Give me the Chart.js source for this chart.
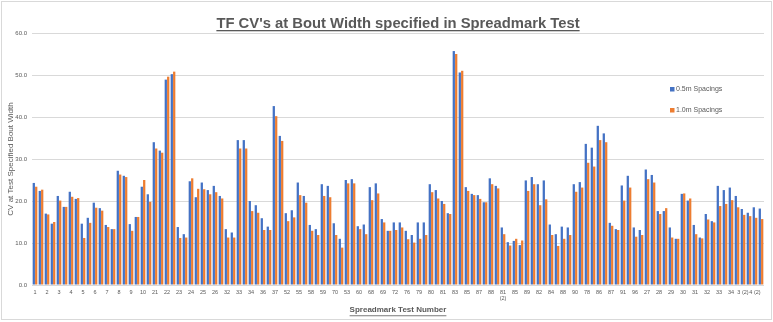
<!DOCTYPE html>
<html>
<head>
<meta charset="utf-8">
<script src="https://cdn.jsdelivr.net/npm/chart.js@4"></script>
<style>
  html, body { margin: 0; padding: 0; background: #fff; }
  #wrap { width: 773px; height: 322px; position: relative; }
</style>
</head>
<body>
<div id="wrap"><canvas id="cvChart" width="773" height="322"></canvas></div>
<script>
// Labels that are readable on the axis (Excel shows every other category)
const shownLabels = [
  '1', '2', '3', '4', '5', '6', '7', '8', '9', '10',
  '21', '22', '23', '24', '25', '26', '32', '33', '34', '36',
  '37', '52', '55', '58', '59', '70', '53', '60', '68', '69',
  '72', '76', '79', '80', '81', '83', '85', '87', '88', ['81', '(2)'],
  '85', '89', '82', '84', '88', '90', '78', '86', '87', '91',
  '96', '27', '28', '29', '30', '31', '32', '33', '34', '3 (2)',
  '4 (2)'
];
// in-between categories are not labelled in the reference
const categories = shownLabels.flatMap(l => [l, '']);

const spacing05 = [
  24.3, 22.4, 17.0, 14.6, 21.2, 18.6, 22.2, 20.5, 14.6, 16.0,
  19.6, 18.3, 14.3, 13.3, 27.2, 26.0, 14.5, 16.2, 23.4, 21.6,
  34.0, 32.0, 48.9, 50.2, 13.8, 12.1, 24.7, 20.9, 24.4, 22.6,
  23.6, 21.2, 13.3, 12.5, 34.5, 34.5, 20.0, 19.0, 15.9, 13.9,
  42.6, 35.5, 17.1, 17.8, 24.4, 21.2, 14.3, 13.3, 24.0, 23.6,
  14.7, 11.0, 25.0, 25.2, 14.0, 14.4, 23.3, 24.2, 15.7, 12.9,
  14.9, 14.9, 12.9, 11.9, 14.9, 14.9, 24.0, 22.6, 20.0, 17.1,
  55.7, 50.6, 23.3, 21.7, 21.4, 19.7, 25.4, 23.6, 13.7, 10.2,
  10.5, 9.5, 24.9, 25.7, 24.0, 24.9, 14.4, 12.1, 13.9, 13.7,
  24.0, 24.5, 33.6, 32.7, 37.9, 36.1, 14.8, 13.3, 23.7, 26.0,
  13.7, 13.1, 27.5, 26.2, 17.6, 17.6, 13.7, 11.0, 21.7, 20.1,
  14.3, 11.3, 16.9, 15.2, 23.6, 22.6, 23.2, 21.2, 18.1, 17.2,
  18.5, 18.2
];

const spacing10 = [
  23.4, 22.7, 16.8, 15.0, 20.1, 18.6, 21.0, 20.7, 11.2, 14.8,
  18.4, 17.7, 13.8, 13.3, 26.3, 25.7, 12.9, 16.2, 25.0, 19.8,
  32.5, 31.5, 49.6, 50.8, 11.2, 11.3, 25.4, 22.9, 22.8, 21.6,
  22.1, 20.6, 11.3, 11.3, 32.5, 32.5, 17.6, 17.2, 13.1, 13.1,
  40.2, 34.3, 15.2, 16.1, 21.4, 19.6, 12.9, 11.9, 21.2, 20.9,
  11.9, 8.9, 24.2, 24.2, 13.3, 12.1, 20.2, 21.8, 14.9, 12.9,
  13.1, 13.7, 10.9, 10.1, 11.0, 11.9, 22.1, 20.6, 19.3, 16.9,
  55.0, 51.0, 22.4, 21.4, 20.5, 19.7, 24.0, 23.0, 12.1, 9.4,
  11.0, 10.6, 22.4, 24.0, 19.0, 20.4, 11.9, 9.3, 11.0, 11.9,
  22.2, 23.2, 29.1, 28.2, 34.5, 34.0, 14.1, 13.1, 20.1, 23.2,
  11.5, 11.9, 25.2, 24.4, 16.9, 18.3, 11.3, 11.0, 21.8, 20.6,
  12.1, 11.1, 15.6, 14.9, 18.8, 19.3, 20.2, 18.5, 16.7, 16.4,
  16.0, 15.7
];

const chartTitle = "TF CV's at Bout Width specified in Spreadmark Test";
const xTitle = 'Spreadmark Test Number';
const yTitle = 'CV at Test Specified Bout Width';

const FONT = '"Liberation Sans Narrow", "Liberation Sans", Arial, sans-serif';
const GREY = '#595959';

// white background, outer border, underlined title, underline on x title, legend inside plot
const decorations = {
  id: 'decorations',
  beforeDraw(chart) {
    const ctx = chart.ctx;
    ctx.save();
    ctx.fillStyle = '#ffffff';
    ctx.fillRect(0, 0, chart.width, chart.height);
    ctx.restore();
  },
  afterDraw(chart) {
    const { ctx, chartArea } = chart;
    ctx.save();
    ctx.strokeStyle = '#d9d9d9';
    ctx.lineWidth = 1;
    ctx.strokeRect(1.5, 1.5, chart.width - 3, chart.height - 4);

    // main title
    const cx = (chartArea.left + chartArea.right) / 2;
    ctx.font = 'bold 14.8px ' + FONT;
    ctx.fillStyle = GREY;
    ctx.textAlign = 'center';
    ctx.textBaseline = 'alphabetic';
    ctx.fillText(chartTitle, cx, 28);
    let w = ctx.measureText(chartTitle).width;
    ctx.fillRect(cx - w / 2, 30, w, 1.3);

    // underline for x axis title
    const xs = chart.scales.x;
    ctx.font = 'bold 8px ' + FONT;
    w = ctx.measureText(xTitle).width;
    const xc = (xs.left + xs.right) / 2;
    const yc = xs.bottom - 2 - 8 * 1.2 / 2;
    ctx.fillRect(xc - w / 2, yc + 4.2, w, 0.8);

    // legend
    ctx.font = '7px ' + FONT;
    ctx.textAlign = 'left';
    ctx.textBaseline = 'middle';
    chart.data.datasets.forEach((ds, i) => {
      const ly = 89.5 + i * 21;
      ctx.fillStyle = ds.backgroundColor;
      ctx.fillRect(670, ly - 2.5, 4.5, 4.5);
      ctx.fillStyle = GREY;
      ctx.fillText(ds.label, 676, ly);
    });
    ctx.restore();
  }
};

new Chart(document.getElementById('cvChart'), {
  type: 'bar',
  data: {
    labels: categories,
    datasets: [
      {
        label: '0.5m Spacings',
        data: spacing05,
        backgroundColor: '#4472C4',
        categoryPercentage: 0.8,
        barPercentage: 0.95
      },
      {
        label: '1.0m Spacings',
        data: spacing10,
        backgroundColor: '#ED7D31',
        categoryPercentage: 0.8,
        barPercentage: 0.95
      }
    ]
  },
  options: {
    responsive: false,
    animation: false,
    devicePixelRatio: 1,
    layout: { padding: { top: 33, right: 9, bottom: 4, left: 0 } },
    plugins: {
      legend: { display: false },
      title: { display: false },
      tooltip: { enabled: false }
    },
    scales: {
      x: {
        grid: { display: false, drawTicks: false },
        border: { display: false },
        ticks: {
          autoSkip: false,
          maxRotation: 0,
          minRotation: 0,
          padding: 4,
          color: GREY,
          font: { family: FONT, size: 5.5 }
        },
        title: {
          display: true,
          text: xTitle,
          color: GREY,
          font: { family: FONT, size: 8, weight: 'bold' },
          padding: { top: 0, bottom: 3 }
        },
        afterFit(scale) { scale.height = 33; }
      },
      y: {
        min: 0,
        max: 60,
        grid: { color: '#d9d9d9', drawTicks: false },
        border: { display: false },
        ticks: {
          stepSize: 10,
          padding: 5,
          color: GREY,
          font: { family: FONT, size: 6 },
          callback: v => v.toFixed(1)
        },
        title: {
          display: true,
          text: yTitle,
          color: GREY,
          font: { family: FONT, size: 8 },
          padding: { top: 6, bottom: 0 }
        },
        afterFit(scale) { scale.width = 32; }
      }
    }
  },
  plugins: [decorations]
});
</script>
</body>
</html>
